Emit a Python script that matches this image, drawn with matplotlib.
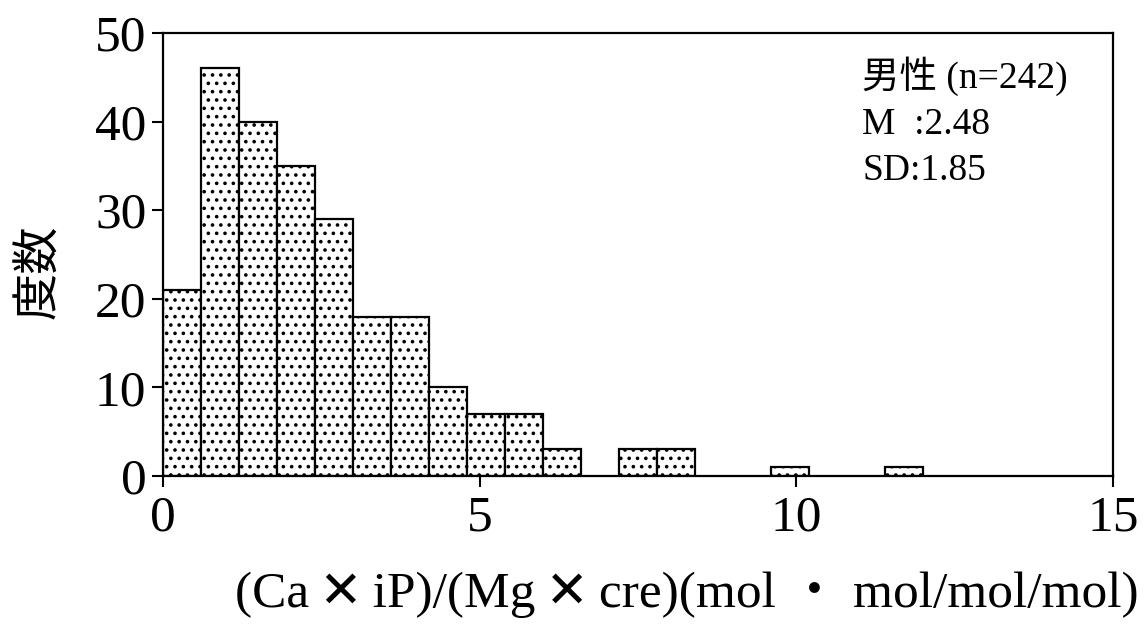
import matplotlib
matplotlib.use("Agg")
import matplotlib.pyplot as plt
import numpy as np

plt.rcParams['font.family'] = ['Liberation Serif', 'Noto Sans CJK JP', 'DejaVu Sans']
plt.rcParams['hatch.linewidth'] = 1.4

# histogram data (bin width 0.6)
bin_width = 0.6
counts = [21, 46, 40, 35, 29, 18, 18, 10, 7, 7, 3, 0, 3, 3, 0, 0, 1, 0, 0, 1]
edges = np.arange(len(counts)) * bin_width
xticks = [0, 5, 10, 15]
yticks = [0, 10, 20, 30, 40, 50]
stats = ["男性 (n=242)", "M  :2.48", "SD:1.85"]
xlab = "(Ca\u2009✕\u2009iP)/(Mg\u2009✕\u2009cre)(mol ・ mol/mol/mol)"

fig = plt.figure(figsize=(11.48, 6.25), dpi=100)
ax = fig.add_axes([0.142, 0.2384, 0.8275, 0.7088])

counts = np.array(counts)
keep = counts > 0
ax.bar(edges[keep], counts[keep], width=bin_width, align='edge',
       color='white', edgecolor='black', linewidth=1.6, hatch='..')

ax.set_xlim(0, 15)
ax.set_ylim(0, 50)
ax.set_xticks(xticks)
ax.set_yticks(yticks)
ax.tick_params(axis='both', direction='out', length=8, width=1.5, labelsize=37)
ax.tick_params(axis='y', pad=4)
ax.tick_params(axis='x', pad=6)
for s in ax.spines.values():
    s.set_linewidth(1.6)

ax.set_ylabel("度数", fontsize=34)
ax.yaxis.label.set_va('center')
ax.yaxis.set_label_coords(-0.129, 0.46)

fig.text(0.598, 0.048, xlab, fontsize=37, ha='center', va='center')

ax.text(0.736, 0.948, "\n".join(stats), transform=ax.transAxes,
        fontsize=27, va='top', ha='left', linespacing=1.45)

fig.savefig("out.png", dpi=100)
